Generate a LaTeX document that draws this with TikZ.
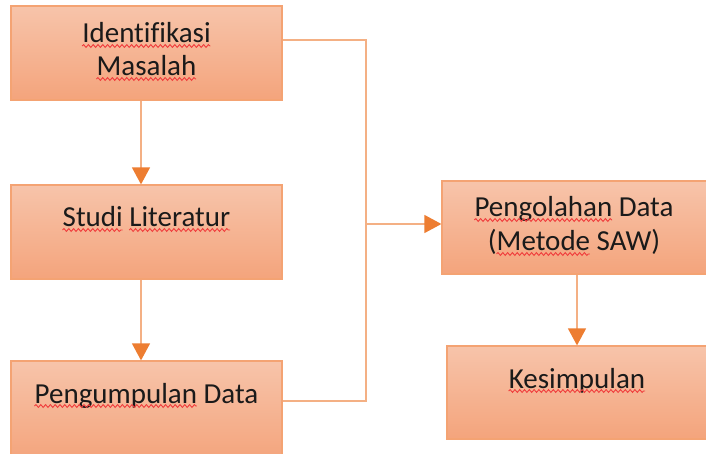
\documentclass[tikz,border=0pt]{standalone}
\usepackage{fontspec}
\setmainfont{Carlito}[Ligatures=CommonOff]
\usetikzlibrary{arrows.meta,decorations.pathmorphing,calc}
\definecolor{boxtop}{HTML}{F7C4AA}
\definecolor{boxbot}{HTML}{F4A47C}
\definecolor{boxline}{HTML}{F4A373}
\definecolor{conn}{HTML}{F4B084}
\definecolor{tipc}{HTML}{ED7D31}
\definecolor{wavec}{HTML}{F03C3C}
\definecolor{txt}{HTML}{1A1A1A}
\newcommand\labelfont{\fontsize{29}{35}\selectfont}
\tikzset{
  box/.style={rectangle, draw=boxline, line width=1.2pt, top color=boxtop, bottom color=boxbot, inner sep=0pt},
  lbl/.style={anchor=base, inner sep=0pt, text=txt, font=\labelfont},
  uw/.style={draw=wavec, line width=0.9pt, decorate, decoration={snake, segment length=4.8pt, amplitude=1.4pt}},
  conn/.style={draw=conn, line width=1.3pt},
  arr/.style={conn, -{Triangle[length=17pt,width=18pt,color=tipc]}}
}
% spell-check wave under word #3 of node #1, preceded in that node by text #2
\newcommand\wav[3]{\draw[uw] let \p1=(#1.base west), \n1={width("#2")}, \n2={width("#3")} in
  (\x1+\n1,\y1-3pt) -- (\x1+\n1+\n2,\y1-3pt);}
\begin{document}
\begin{tikzpicture}[x=1pt,y=-1pt]
\labelfont
\useasboundingbox (0,0) rectangle (706,454);
\clip (0,0) rectangle (706,454);
% boxes
\node[box, minimum width=271, minimum height=94] (b1) at (146.5,53) {};
\node[box, minimum width=271, minimum height=94] (b2) at (146.5,232) {};
\node[box, minimum width=271, minimum height=100] (b3) at (146.5,411) {};
\node[box, minimum width=273, minimum height=93] (b4) at (578.5,227.5) {};
\node[box, minimum width=268, minimum height=93] (b5) at (581,392.5) {};
% texts
\node[lbl] (t1a) at (146.5,43) {Identifikasi};
\node[lbl] (t1b) at (146.5,76) {Masalah};
\node[lbl] (t2) at (146.5,227) {Studi Literatur};
\node[lbl] (t3) at (146.5,403) {Pengumpulan Data};
\node[lbl] (t4a) at (574,217) {Pengolahan Data};
\node[lbl] (t4b) at (574,251) {(Metode SAW)};
\node[lbl] (t5) at (577,388) {Kesimpulan};
% spell-check underlines
\wav{t1a}{}{Identifikasi}
\wav{t1b}{}{Masalah}
\wav{t2}{}{Studi}
\wav{t2}{Studi }{Literatur}
\wav{t3}{}{Pengumpulan}
\wav{t4a}{}{Pengolahan}
\wav{t4b}{(}{Metode}
\wav{t5}{}{Kesimpulan}
% connectors
\coordinate (j) at (366,224);
\coordinate (jt) at (366,40);
\coordinate (jb) at (366,401);
\draw[arr] ([xshift=-5.5pt]b1.south) -- ([xshift=-5.5pt]b2.north);
\draw[arr] ([xshift=-5.5pt]b2.south) -- ([xshift=-5.5pt]b3.north);
\draw[conn] (b1.east |- jt) -- (jt) -- (jb) -- (b3.east |- jb);
\draw[arr] (j) -- (b4.west |- j);
\draw[arr] ([xshift=-1.5pt]b4.south) -- ([xshift=-1.5pt]b4.south |- b5.north);
\end{tikzpicture}
\end{document}
